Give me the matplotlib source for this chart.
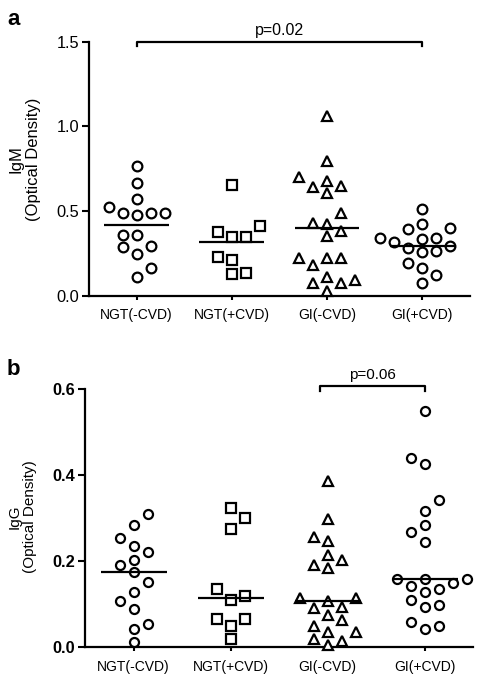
import numpy as np
import matplotlib.pyplot as plt

plt.rcParams['font.family'] = ['Liberation Sans', 'DejaVu Sans']

# ------------------------------------------------------------
# 数据
# ------------------------------------------------------------
groups = ["NGT(-CVD)", "NGT(+CVD)", "GI(-CVD)", "GI(+CVD)"]
markers = ['o', 's', '^', 'o']

igm_ngt_neg = [0.768, 0.665, 0.570, 0.523, 0.487, 0.487, 0.478, 0.487,
               0.359, 0.359, 0.286, 0.294, 0.247, 0.166, 0.112]
igm_ngt_pos = [0.656, 0.415, 0.376, 0.350, 0.350, 0.209, 0.228, 0.130, 0.138]
igm_gi_neg = [1.063, 0.797, 0.701, 0.679, 0.640, 0.646, 0.605, 0.487, 0.431,
              0.384, 0.427, 0.353, 0.222, 0.222, 0.222, 0.183, 0.114, 0.094,
              0.078, 0.075, 0.031]
igm_gi_pos = [0.513, 0.423, 0.393, 0.399, 0.320, 0.340, 0.340, 0.335, 0.281,
              0.261, 0.265, 0.296, 0.192, 0.166, 0.123, 0.079]

igg_ngt_neg = [0.309, 0.283, 0.253, 0.236, 0.222, 0.203, 0.191, 0.174, 0.151,
               0.128, 0.108, 0.088, 0.054, 0.043, 0.012]
igg_ngt_pos = [0.323, 0.301, 0.274, 0.135, 0.110, 0.118, 0.065, 0.065, 0.048,
               0.019]
igg_gi_neg = [0.387, 0.298, 0.247, 0.255, 0.203, 0.214, 0.183, 0.191, 0.114,
              0.106, 0.114, 0.094, 0.091, 0.074, 0.063, 0.036, 0.036, 0.048,
              0.019, 0.005, 0.013]
igg_gi_pos = [0.548, 0.440, 0.425, 0.341, 0.317, 0.284, 0.267, 0.245, 0.158,
              0.158, 0.158, 0.149, 0.143, 0.135, 0.127, 0.110, 0.098, 0.094,
              0.058, 0.048, 0.043]

igm_data = [igm_ngt_neg, igm_ngt_pos, igm_gi_neg, igm_gi_pos]
igg_data = [igg_ngt_neg, igg_ngt_pos, igg_gi_neg, igg_gi_pos]


def swarm_offsets(values, px_x, px_y, diam=12.0, step=14.0):
    """简单的贪心蜂群排布(左右交替), 返回 x 方向偏移 (数据单位)"""
    values = np.asarray(values, dtype=float)
    order = np.argsort(values)
    placed = []
    offs = np.zeros(len(values))
    side = 1
    for i in order:
        y = values[i] * px_y
        cands = [0.0]
        for k in range(1, 8):
            cands += [side * k * step, -side * k * step]
        for c in cands:
            if all((c - px) ** 2 + (y - py) ** 2 >= diam ** 2 for px, py in placed):
                break
        if c != 0:
            side = -np.sign(c)
        placed.append((c, y))
        offs[i] = c / px_x
    return offs


def draw_panel(ax, data, ymax, yticks, stat, bold_ticks, msize):
    ax.set_xlim(0.5, 4.5)
    ax.set_ylim(0, ymax)
    fig = ax.figure
    pos = ax.get_position()
    px_x = pos.width * fig.get_figwidth() * fig.dpi / 4.0
    px_y = pos.height * fig.get_figheight() * fig.dpi / ymax

    for i, (vals, m) in enumerate(zip(data, markers)):
        xs = i + 1 + swarm_offsets(vals, px_x, px_y)
        ax.plot(xs, vals, linestyle='none', marker=m, markersize=msize[m],
                markerfacecolor='white', markeredgecolor='black',
                markeredgewidth=1.6, clip_on=False, zorder=3)
        ax.hlines(stat(vals), i + 1 - 0.34, i + 1 + 0.34, color='black',
                  linewidth=1.6, zorder=4)

    ax.set_xticks([1, 2, 3, 4])
    ax.set_xticklabels(groups, fontsize=10)
    ax.set_yticks(yticks)
    ax.set_yticklabels([f"{t:.1f}" for t in yticks], fontsize=11.8,
                       fontweight='bold' if bold_ticks else 'normal')
    for s in ['top', 'right']:
        ax.spines[s].set_visible(False)
    for s in ['left', 'bottom']:
        ax.spines[s].set_linewidth(1.6)
    ax.tick_params(axis='y', length=5, width=1.5, pad=2)
    ax.tick_params(axis='x', length=3, width=1.5, pad=6)


fig = plt.figure(figsize=(4.78, 6.74), dpi=100)
ax1 = fig.add_axes([0.186, 0.561, 0.797, 0.377])
ax2 = fig.add_axes([0.178, 0.040, 0.812, 0.383])

draw_panel(ax1, igm_data, 1.5, [0.0, 0.5, 1.0, 1.5], np.mean, False,
           {'o': 7.0, 's': 6.5, '^': 7.5})
draw_panel(ax2, igg_data, 0.6, [0.0, 0.2, 0.4, 0.6], np.median, True,
           {'o': 6.5, 's': 6.5, '^': 7.5})

# 显著性标注
h1 = 0.027
ax1.plot([1, 1, 4, 4], [1.5 - h1, 1.5, 1.5, 1.5 - h1], color='black',
         linewidth=1.6, clip_on=False)
ax1.annotate("p=0.02", (2.5, 1.5), xytext=(0, 3), textcoords='offset points',
             ha='center', va='bottom', fontsize=11.5, annotation_clip=False)

y2 = 0.606
h2 = 0.01
ax2.plot([2.92, 2.92, 4, 4], [y2 - h2, y2, y2, y2 - h2], color='black',
         linewidth=1.6, clip_on=False)
ax2.annotate("p=0.06", (3.46, y2), xytext=(0, 3), textcoords='offset points',
             ha='center', va='bottom', fontsize=11, annotation_clip=False)

# 纵轴标题
fig.text(0.052, 0.764, "IgM\n(Optical Density)", rotation=90, ha='center',
         va='center', multialignment='center', fontsize=12, linespacing=1.15)
fig.text(0.046, 0.233, "IgG\n(Optical Density)", rotation=90, ha='center',
         va='center', multialignment='center', fontsize=11, linespacing=1.15)

# 面板标记
fig.text(0.015, 0.963, "a", fontsize=16, fontweight='bold')
fig.text(0.013, 0.444, "b", fontsize=16, fontweight='bold')

fig.savefig("out.png", dpi=100)
